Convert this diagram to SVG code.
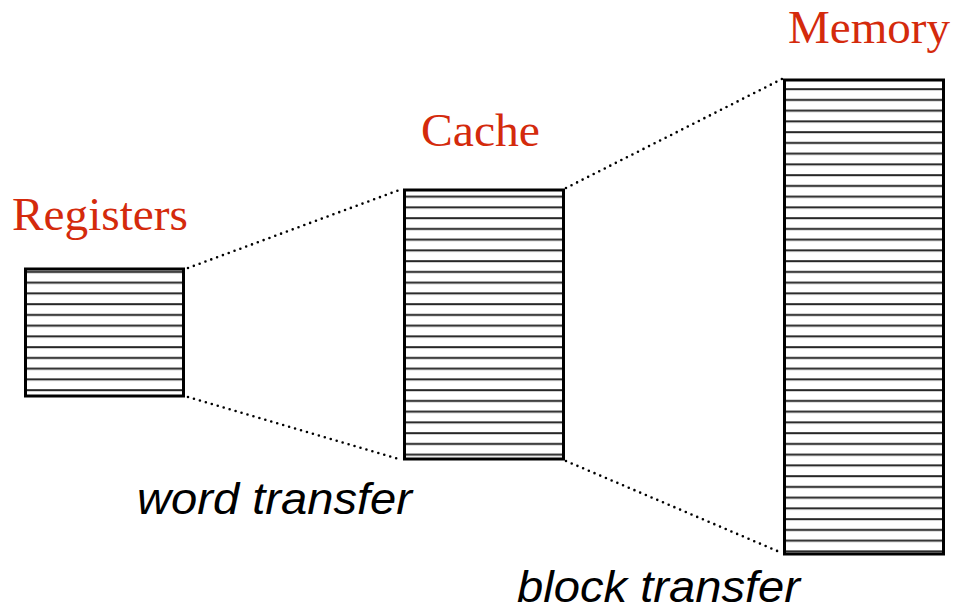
<svg xmlns="http://www.w3.org/2000/svg" width="955" height="613" viewBox="0 0 955 613">
<defs>
<style>
.box{fill:url(#lines);stroke:#000;stroke-width:3}
.dot{fill:none;stroke:#000;stroke-width:2.6;stroke-linecap:round;stroke-dasharray:0 6.2}
.lbl{font-family:"Liberation Serif","Times New Roman",serif;font-size:47px;fill:#d42a0c}
.cap{font-family:"Liberation Sans",Arial,sans-serif;font-style:italic;font-size:45px;fill:#000}
</style>
<pattern id="lines" patternUnits="userSpaceOnUse" width="10" height="10.75" y="2">
<rect width="10" height="10.75" fill="#fff"/>
<rect y="0" width="10" height="2.4" fill="#999"/>
<rect y="0.4" width="10" height="1.5" fill="#1a1a1a"/>
</pattern>
</defs>
<g id="connectors">
<line class="dot" x1="188" y1="268" x2="402" y2="189"/>
<line class="dot" x1="188" y1="397" x2="402" y2="460"/>
<line class="dot" x1="566" y1="188" x2="782" y2="79"/>
<line class="dot" x1="566" y1="461" x2="782" y2="553"/>
</g>
<g id="registers">
<rect class="box" x="25.5" y="269" width="158" height="127"/>
<text class="lbl" x="12" y="230" textLength="176" lengthAdjust="spacingAndGlyphs">Registers</text>
</g>
<g id="cache">
<rect class="box" x="404.5" y="190" width="159" height="269"/>
<text class="lbl" x="421" y="146" textLength="119" lengthAdjust="spacingAndGlyphs">Cache</text>
</g>
<g id="memory">
<rect class="box" x="784.5" y="80" width="159" height="474"/>
<text class="lbl" x="788" y="43" textLength="162" lengthAdjust="spacingAndGlyphs">Memory</text>
</g>
<g id="captions">
<text class="cap" x="137" y="514" textLength="275" lengthAdjust="spacingAndGlyphs">word transfer</text>
<text class="cap" x="517" y="602" textLength="283" lengthAdjust="spacingAndGlyphs">block transfer</text>
</g>
</svg>
